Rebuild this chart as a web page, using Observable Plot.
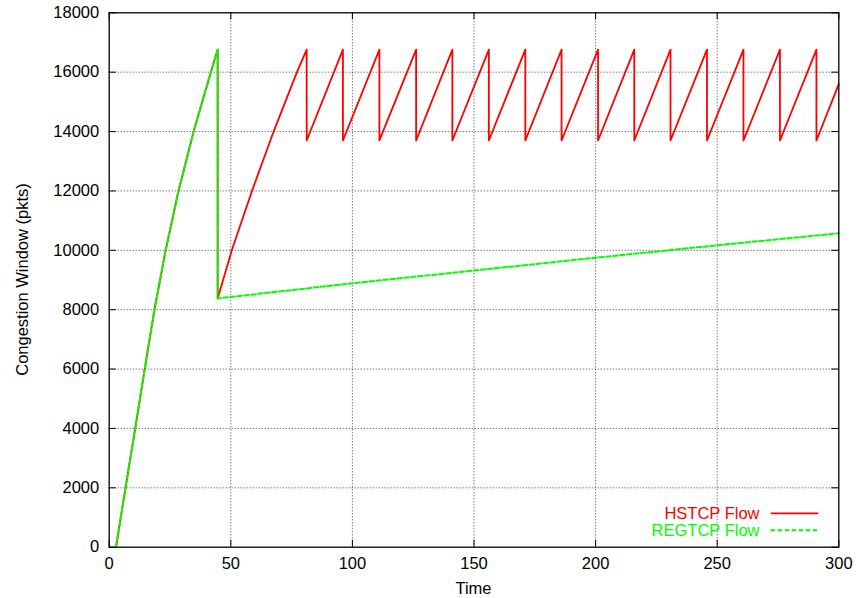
<!DOCTYPE html>
<html>
<head>
<meta charset="utf-8">
<script src="https://cdn.jsdelivr.net/npm/d3@7"></script>
<script src="https://cdn.jsdelivr.net/npm/@observablehq/plot@0.6"></script>
<style>
  html, body { margin: 0; padding: 0; background: #fff; }
  #chart { width: 856px; height: 598px; }
</style>
</head>
<body>
<div id="chart"></div>
<script>
// ---- Data ----
const xTicks = [0, 50, 100, 150, 200, 250, 300];
const yTicks = [0, 2000, 4000, 6000, 8000, 10000, 12000, 14000, 16000, 18000];

// HSTCP flow (red, solid)
const hstcpTime = [
  2.8, 6.7, 10.7, 14.6, 18.6, 23.2, 28.5, 34.7, 41.8, 44.6,
  44.6, 50.4, 58.7, 67.6, 77.2, 81.2,
  81.2, 96.1, 96.1, 111.1, 111.1, 126.2, 126.2, 141.1, 141.1, 156.1,
  156.1, 171.1, 171.1, 186.0, 186.0, 201.0, 201.0, 215.9, 215.9, 230.8,
  230.8, 245.8, 245.8, 260.8, 260.8, 275.8, 275.8, 290.8, 290.8, 300
];
const hstcpCwnd = [
  0, 2000, 4000, 6000, 8000, 10000, 12000, 14000, 16000, 16760,
  8380, 10000, 12000, 14000, 16000, 16760,
  13700, 16760, 13700, 16760, 13700, 16760, 13700, 16760, 13700, 16760,
  13700, 16760, 13700, 16760, 13700, 16760, 13700, 16760, 13700, 16760,
  13700, 16760, 13700, 16760, 13700, 16760, 13700, 16760, 13700, 15600
];

// REGTCP flow (green, dashed)
const regtcpTime = [
  2.8, 6.7, 10.7, 14.6, 18.6, 23.2, 28.5, 34.7, 41.8, 44.6,
  44.6, 100, 150, 200, 250, 300
];
const regtcpCwnd = [
  0, 2000, 4000, 6000, 8000, 10000, 12000, 14000, 16000, 16760,
  8380, 8890, 9320, 9750, 10170, 10575
];

const seriesNames = ["HSTCP Flow", "REGTCP Flow"];
const xLabel = "Time";
const yLabel = "Congestion Window (pkts)";

// ---- Tables built from the arrays ----
const hstcp = hstcpTime.map((t, i) => ({t, w: hstcpCwnd[i]}));
const regtcp = regtcpTime.map((t, i) => ({t, w: regtcpCwnd[i]}));

// ---- Layout ----
const W = 856, H = 598;
const mL = 108.7, mR = 17.7, mT = 12.3, mB = 51.3;
const innerW = W - mL - mR, innerH = H - mT - mB;
const tickLen = 7;
const font = "'Liberation Sans', Arial, Helvetica, sans-serif";
const fs = 16.5;
const red = "#ff0000", green = "#00ff00";
const gridStyle = {stroke: "#000", strokeOpacity: 0.75, strokeWidth: 1, strokeDasharray: "1,2"};

const chart = Plot.plot({
  width: W, height: H,
  marginLeft: mL, marginRight: mR, marginTop: mT, marginBottom: mB,
  style: {fontFamily: font, fontSize: fs + "px", color: "#000", background: "#fff", overflow: "visible"},
  x: {domain: [0, 300], ticks: xTicks, tickSize: 0, tickPadding: 10, tickFormat: d => String(d), label: null},
  y: {domain: [0, 18000], ticks: yTicks, tickSize: 0, tickPadding: 10, tickFormat: d => String(d), label: null},
  marks: [
    Plot.ruleX(xTicks.slice(1, -1), {x: d => d, ...gridStyle}),
    Plot.ruleY(yTicks.slice(1, -1), {y: d => d, ...gridStyle}),
    // inward tick marks on all four sides
    Plot.tickX(xTicks, {x: d => d, insetTop: innerH - tickLen, stroke: "#000"}),
    Plot.tickX(xTicks, {x: d => d, insetBottom: innerH - tickLen, stroke: "#000"}),
    Plot.tickY(yTicks, {y: d => d, insetRight: innerW - tickLen, stroke: "#000"}),
    Plot.tickY(yTicks, {y: d => d, insetLeft: innerW - tickLen, stroke: "#000"}),
    Plot.line(hstcp, {x: "t", y: "w", stroke: red, strokeWidth: 1.8}),
    Plot.line(regtcp, {x: "t", y: "w", stroke: green, strokeWidth: 2, strokeDasharray: "4.5,2.5"}),
    Plot.frame({stroke: "#000", strokeWidth: 1.3})
  ]
});

document.getElementById("chart").appendChild(chart);

// ---- Axis titles and in-plot legend ----
const svg = d3.select(chart);
svg.append("text")
  .attr("x", mL + innerW / 2).attr("y", 593.5)
  .attr("text-anchor", "middle")
  .style("font-family", font).style("font-size", fs + "px")
  .attr("fill", "#000").text(xLabel);
svg.append("text")
  .attr("transform", `translate(27.5,${mT + innerH / 2}) rotate(-90)`)
  .attr("text-anchor", "middle")
  .style("font-family", font).style("font-size", fs + "px")
  .attr("fill", "#000").text(yLabel);

const legend = svg.append("g");
const legendColors = [red, green];
const legendDash = [null, "4.5,2.5"];
const legendY = [513.3, 530.2];
seriesNames.forEach((name, i) => {
  legend.append("text")
    .attr("x", 759.5).attr("y", legendY[i] + 5.9)
    .attr("text-anchor", "end")
    .style("font-family", font).style("font-size", fs + "px")
    .attr("fill", legendColors[i]).text(name);
  legend.append("line")
    .attr("x1", 770.7).attr("x2", 818.3)
    .attr("y1", legendY[i]).attr("y2", legendY[i])
    .attr("stroke", legendColors[i])
    .attr("stroke-width", i === 0 ? 1.8 : 2)
    .attr("stroke-dasharray", legendDash[i]);
});
</script>
</body>
</html>
